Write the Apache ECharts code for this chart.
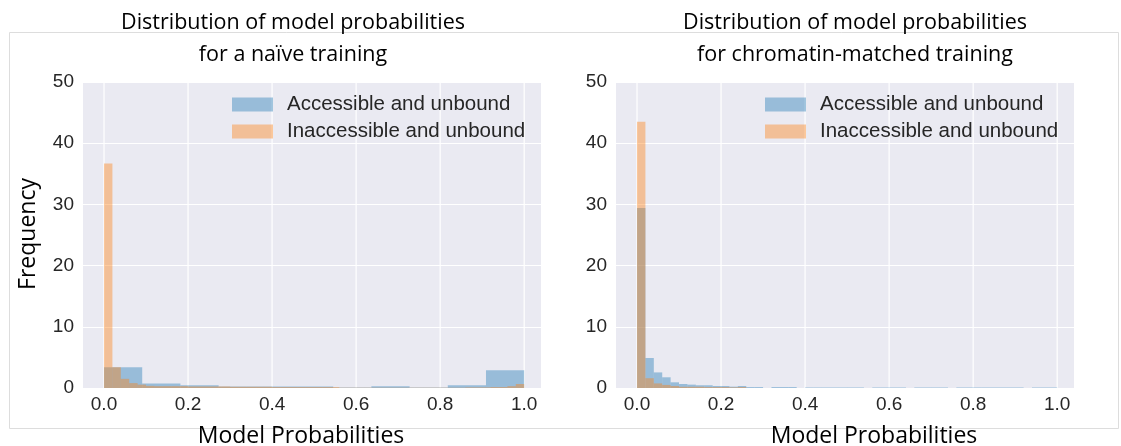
<!DOCTYPE html>
<html>
<head>
<meta charset="utf-8">
<title>Distribution of model probabilities</title>
<script src="https://cdn.jsdelivr.net/npm/echarts@6/dist/echarts.min.js"></script>
<style>
  html, body { margin: 0; padding: 0; background: #ffffff; }
  #chart { width: 1121px; height: 446px; }
</style>
</head>
<body>
<div id="chart"></div>
<script>
// Histogram heights (frequency per bin) on the probability range [0, 1]
const xTicks = [0, 0.2, 0.4, 0.6, 0.8, 1.0];
const yTicks = [0, 10, 20, 30, 40, 50];
const seriesNames = ['Accessible and unbound', 'Inaccessible and unbound'];

// naïve training: accessible uses 11 bins, inaccessible uses 50 bins
const naiveAccessible = [3.4, 0.75, 0.45, 0.25, 0.25, 0.25, 0.1, 0.3, 0.1, 0.45, 2.9];
const naiveInaccessible = [
  36.7, 3.4, 1.5, 0.8, 0.55, 0.35, 0.3, 0.3, 0.3, 0.3,
  0.25, 0.25, 0.25, 0.25, 0.25, 0.2, 0.2, 0.2, 0.2, 0.2,
  0.15, 0.15, 0.15, 0.15, 0.15, 0.15, 0.15, 0.15, 0.05, 0.05,
  0.05, 0.05, 0.05, 0.05, 0.05, 0.05, 0.05, 0.05, 0.05, 0.05,
  0.05, 0.05, 0.05, 0.1, 0.1, 0.1, 0.15, 0.15, 0.3, 0.65
];

// chromatin-matched training: both use 50 bins
const matchedAccessible = [
  29.4, 4.9, 2.55, 1.75, 0.93, 0.65, 0.55, 0.45, 0.45, 0.33,
  0.33, 0.22, 0.33, 0.15, 0.15, 0, 0.15, 0.15, 0.15, 0,
  0.08, 0.08, 0.08, 0.08, 0.08, 0.08, 0.08, 0, 0.08, 0.08,
  0.08, 0.08, 0, 0.08, 0.08, 0.08, 0.08, 0, 0.08, 0.08,
  0.08, 0.08, 0.08, 0.08, 0.08, 0.08, 0, 0.08, 0.08, 0.08
];
const matchedInaccessible = [
  43.5, 1.6, 0.75, 0.5, 0.33, 0.2, 0.2, 0.2, 0.15, 0.15,
  0.15, 0.1, 0.15, 0, 0, 0, 0, 0, 0, 0,
  0, 0, 0, 0, 0, 0, 0, 0, 0, 0,
  0, 0, 0, 0, 0, 0, 0, 0, 0, 0,
  0, 0, 0, 0, 0, 0, 0, 0, 0, 0
];

const BLUE = 'rgba(31,119,180,0.4)';
const ORANGE = 'rgba(255,127,14,0.4)';
const TICK_FONT = 'Liberation Sans, Arial, sans-serif';
const HEAD_FONT = 'Open Sans, Noto Sans, sans-serif';

// turn bin heights into [start, end, height] rows over [0, 1]
function toBins(heights) {
  const w = 1 / heights.length;
  return heights.map((h, i) => [i * w, (i + 1) * w, h]);
}

function renderBin(params, api) {
  const p0 = api.coord([api.value(0), 0]);
  const p1 = api.coord([api.value(1), api.value(2)]);
  return {
    type: 'rect',
    shape: { x: p0[0], y: p1[1], width: p1[0] - p0[0], height: p0[1] - p1[1] },
    style: { fill: api.visual('color') }
  };
}

function renderGridLine(params, api) {
  const a = api.coord([api.value(0), 0]);
  const b = api.coord([api.value(0), 50]);
  return {
    type: 'line',
    shape: { x1: a[0], y1: a[1], x2: b[0], y2: b[1] },
    style: { stroke: '#ffffff', lineWidth: 1.2 }
  };
}

function histSeries(name, heights, color, idx) {
  return {
    name: name,
    type: 'custom',
    xAxisIndex: idx,
    yAxisIndex: idx,
    renderItem: renderBin,
    itemStyle: { color: color },
    encode: { x: [0, 1], y: 2 },
    data: toBins(heights),
    z: 3,
    silent: true
  };
}

function gridSeries(idx) {
  return {
    type: 'custom',
    xAxisIndex: idx,
    yAxisIndex: idx,
    renderItem: renderGridLine,
    encode: { x: 0 },
    data: xTicks.map(v => [v]),
    z: 1,
    silent: true
  };
}

function xAxis(idx) {
  return {
    type: 'value',
    gridIndex: idx,
    min: -0.05,
    max: 1.04,
    axisLine: { show: false },
    axisTick: { show: false, customValues: xTicks },
    splitLine: { show: false },
    axisLabel: {
      customValues: xTicks,
      formatter: v => v.toFixed(1),
      color: '#262626',
      fontFamily: TICK_FONT,
      fontSize: 19,
      margin: 7
    }
  };
}

function yAxis(idx) {
  return {
    type: 'value',
    gridIndex: idx,
    min: yTicks[0],
    max: yTicks[yTicks.length - 1],
    interval: 10,
    axisLine: { show: false },
    axisTick: { show: false },
    splitLine: { lineStyle: { color: '#ffffff', width: 1.2 } },
    axisLabel: {
      color: '#262626',
      fontFamily: TICK_FONT,
      fontSize: 19,
      margin: 9
    }
  };
}

function legend(left) {
  return {
    data: seriesNames,
    orient: 'vertical',
    left: left,
    top: 89,
    icon: 'rect',
    itemWidth: 41,
    itemHeight: 14,
    itemGap: 6,
    selectedMode: false,
    textStyle: { color: '#262626', fontFamily: TICK_FONT, fontSize: 20.5, padding: [0, 0, 0, 9] }
  };
}

function headText(text, x, y, size) {
  return {
    type: 'text',
    x: x,
    y: y,
    style: {
      text: text,
      fill: '#000000',
      font: size + 'px ' + HEAD_FONT,
      align: 'center',
      verticalAlign: 'middle'
    }
  };
}

const chart = echarts.init(document.getElementById('chart'), null, { renderer: 'canvas' });

chart.setOption({
  backgroundColor: '#ffffff',
  animation: false,
  grid: [
    { left: 83, top: 82, width: 458, height: 306, show: true, backgroundColor: '#EAEAF2', borderWidth: 0 },
    { left: 616, top: 82, width: 458, height: 306, show: true, backgroundColor: '#EAEAF2', borderWidth: 0 }
  ],
  xAxis: [xAxis(0), xAxis(1)],
  yAxis: [yAxis(0), yAxis(1)],
  legend: [legend(227), legend(760)],
  series: [
    gridSeries(0),
    gridSeries(1),
    histSeries(seriesNames[0], naiveAccessible, BLUE, 0),
    histSeries(seriesNames[1], naiveInaccessible, ORANGE, 0),
    histSeries(seriesNames[0], matchedAccessible, BLUE, 1),
    histSeries(seriesNames[1], matchedInaccessible, ORANGE, 1)
  ],
  graphic: [
    {
      type: 'rect',
      shape: { x: 9.5, y: 32.5, width: 1109, height: 396 },
      style: { fill: 'none', stroke: '#dddddd', lineWidth: 1 },
      z: -10,
      silent: true
    },
    headText('Distribution of model probabilities', 293, 23, 21.5),
    headText('for a naïve training', 293, 55, 21.5),
    headText('Distribution of model probabilities', 855, 23, 21.5),
    headText('for chromatin-matched training', 855, 55, 21.5),
    headText('Model Probabilities', 301, 436, 23),
    headText('Model Probabilities', 874, 436, 23),
    {
      type: 'text',
      x: 28,
      y: 234,
      rotation: Math.PI / 2,
      style: {
        text: 'Frequency',
        fill: '#000000',
        font: '23px ' + HEAD_FONT,
        align: 'center',
        verticalAlign: 'middle'
      }
    }
  ]
});
</script>
</body>
</html>
